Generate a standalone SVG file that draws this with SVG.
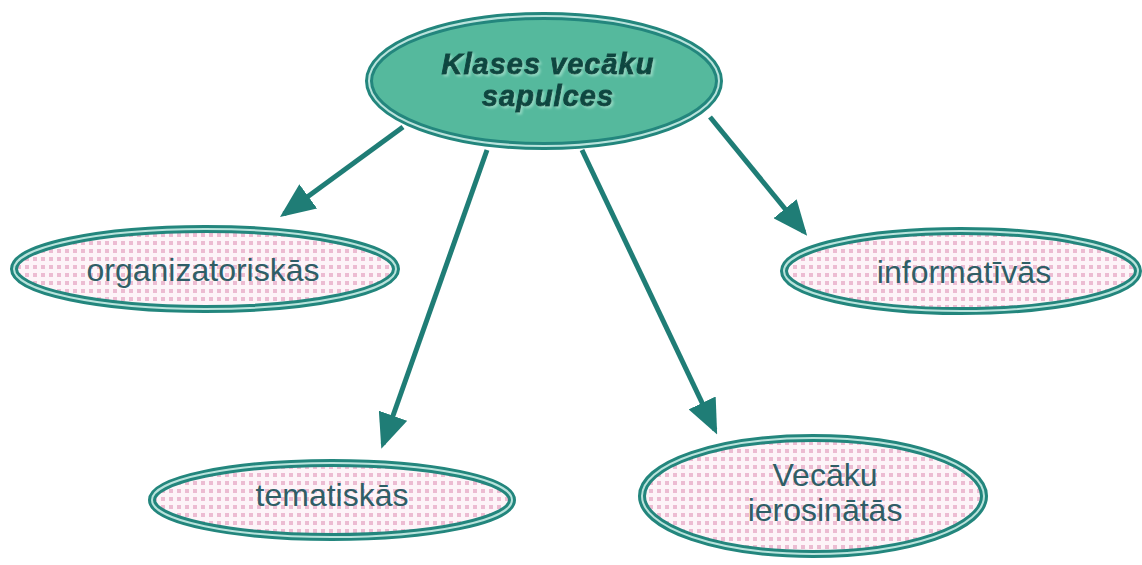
<svg xmlns="http://www.w3.org/2000/svg" width="1142" height="565" viewBox="0 0 1142 565">
<style>
.ring{fill:none;stroke:#23867d;stroke-width:8}
.ringi{fill:none;stroke:#b9e3dc;stroke-width:2}
.child{fill:url(#check)}
.lbl{font-family:"Liberation Sans",Arial,sans-serif;font-size:32px;fill:#2f5e66;text-anchor:middle}
.main{font-family:"Liberation Sans",Arial,sans-serif;font-size:29px;letter-spacing:1px;font-weight:bold;font-style:italic;fill:#0f4640;stroke:#0f4640;stroke-width:0.9;text-anchor:middle;filter:url(#sh)}
.conn{stroke:#1f7d76;stroke-width:5;fill:none;marker-end:url(#ah)}
</style>
<defs>
<pattern id="check" width="8" height="8" patternUnits="userSpaceOnUse">
<rect width="8" height="8" fill="#fdf4f8"/>
<rect x="1" y="1" width="4" height="4" fill="#ecbcd2"/>
</pattern>
<marker id="ah" markerWidth="7" markerHeight="6" refX="6" refY="3" orient="auto" markerUnits="strokeWidth">
<path d="M0,0 L7,3 L0,6 Z" fill="#1f7d76"/>
</marker>
<filter id="sh" x="-10%" y="-20%" width="120%" height="140%">
<feDropShadow dx="2" dy="2" stdDeviation="0.8" flood-color="#8fd6c0" flood-opacity="1"/>
</filter>
</defs>
<rect width="1142" height="565" fill="#ffffff"/>
<g id="connectors">
<line class="conn" x1="403" y1="127" x2="284" y2="214"/>
<line class="conn" x1="487" y1="150" x2="383" y2="444"/>
<line class="conn" x1="582" y1="150" x2="715" y2="430"/>
<line class="conn" x1="710" y1="117" x2="804" y2="232"/>
</g>
<g id="center">
<ellipse cx="544" cy="81" rx="175" ry="65" fill="#55b99d"/>
<ellipse class="ring" cx="544" cy="81" rx="175" ry="65"/>
<ellipse class="ringi" cx="544" cy="81" rx="175" ry="65"/>
<text class="main" x="548" y="74">Klases vecāku</text>
<text class="main" x="548" y="106">sapulces</text>
</g>
<g id="organizatoriskas">
<ellipse class="child" cx="205" cy="269" rx="191" ry="40"/>
<ellipse class="ring" cx="205" cy="269" rx="191" ry="40"/>
<ellipse class="ringi" cx="205" cy="269" rx="191" ry="40"/>
<text class="lbl" x="203" y="281">organizatoriskās</text>
</g>
<g id="informativas">
<ellipse class="child" cx="961" cy="271" rx="177" ry="40"/>
<ellipse class="ring" cx="961" cy="271" rx="177" ry="40"/>
<ellipse class="ringi" cx="961" cy="271" rx="177" ry="40"/>
<text class="lbl" x="964" y="283">informatīvās</text>
</g>
<g id="tematiskas">
<ellipse class="child" cx="332" cy="500" rx="180" ry="37"/>
<ellipse class="ring" cx="332" cy="500" rx="180" ry="37"/>
<ellipse class="ringi" cx="332" cy="500" rx="180" ry="37"/>
<text class="lbl" x="332" y="506">tematiskās</text>
</g>
<g id="vecaku-ierosinatas">
<ellipse class="child" cx="813" cy="496" rx="171" ry="58"/>
<ellipse class="ring" cx="813" cy="496" rx="171" ry="58"/>
<ellipse class="ringi" cx="813" cy="496" rx="171" ry="58"/>
<text class="lbl" x="825" y="486">Vecāku</text>
<text class="lbl" x="825" y="521">ierosinātās</text>
</g>
</svg>
